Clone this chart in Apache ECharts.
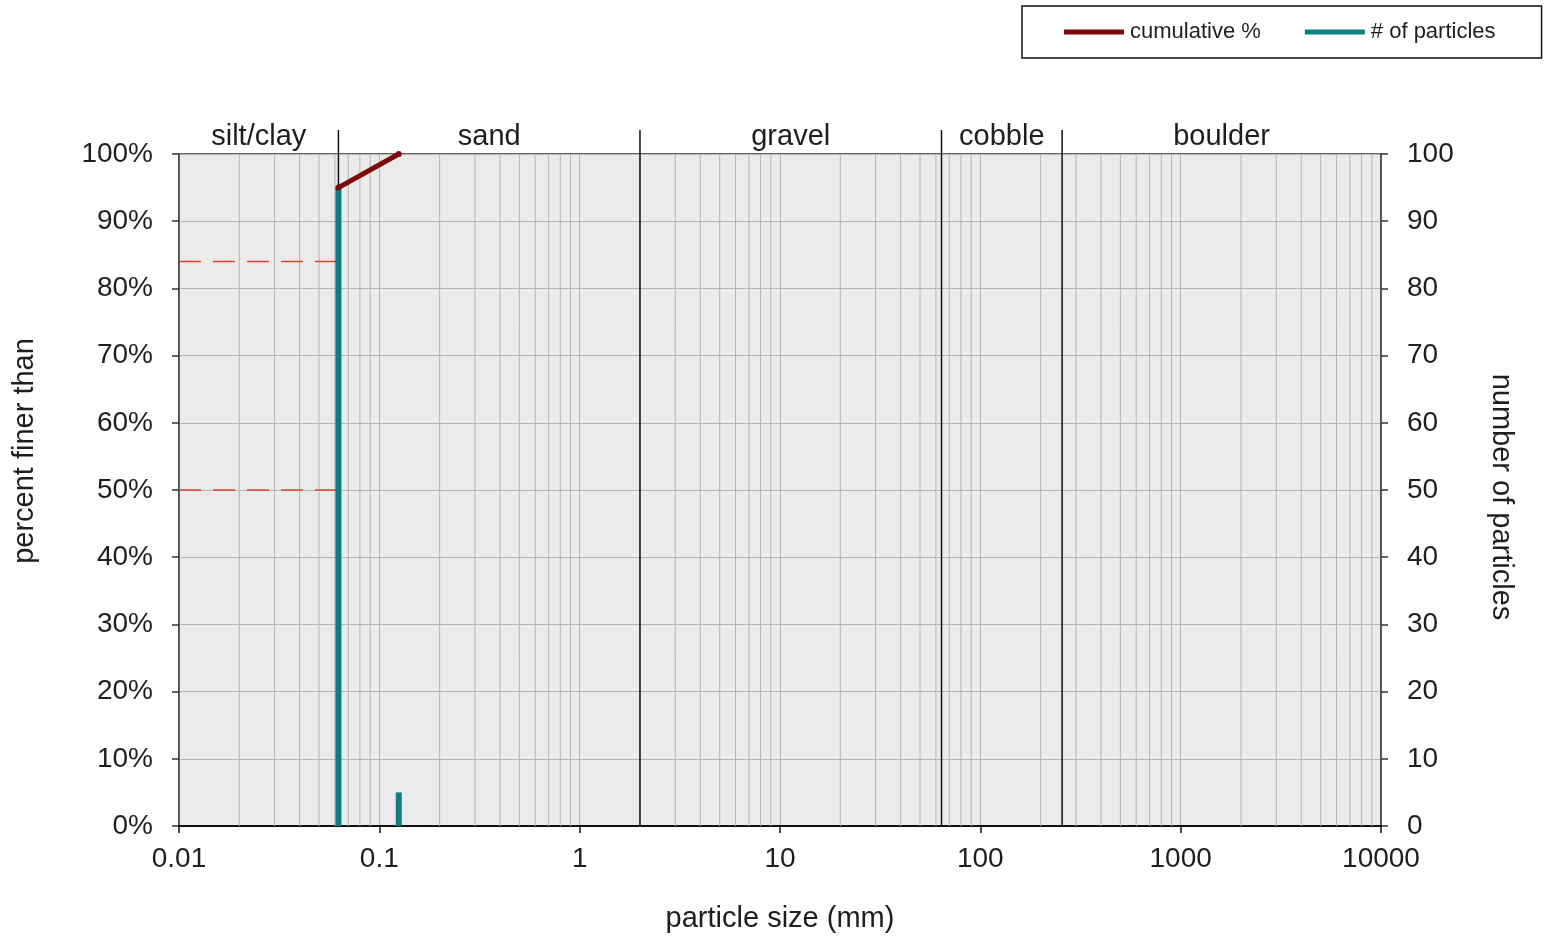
<!DOCTYPE html>
<html>
<head>
<meta charset="utf-8">
<script src="https://cdn.jsdelivr.net/npm/echarts@6/dist/echarts.min.js"></script>
<style>
html,body{margin:0;padding:0;background:#fff;}
#chart{width:1551px;height:940px;}
</style>
</head>
<body>
<div id="chart"></div>
<script>
// ---- data ----
const cumSizes = [0.0625, 0.125];          // mm
const cumPercent = [95, 100];              // % finer than
const particleSizes = [0.0625, 0.125];     // mm
const particleCounts = [95, 5];            // number of particles
const d84 = 84, d50 = 50;                  // dashed reference levels (%)
const dRefSize = 0.0625;                   // where dashed lines end
const boundaries = [0.0625, 2, 64, 256];   // class boundaries (mm)
const classNames = ['silt/clay', 'sand', 'gravel', 'cobble', 'boulder'];
const classLimits = [0.01, 0.0625, 2, 64, 256, 10000];
const xTickLabels = ['0.01', '0.1', '1', '10', '100', '1000', '10000'];
const leftTicks = [0,10,20,30,40,50,60,70,80,90,100];
const rightTicks = [0,10,20,30,40,50,60,70,80,90,100];

// minor log grid values
const minorGrid = [];
for (let e = -2; e < 4; e++) {
  for (let m = 2; m <= 9; m++) minorGrid.push(+(m * Math.pow(10, e)).toPrecision(6));
}

const FONT = 'Liberation Sans, Arial, sans-serif';
const TEAL = '#0e7f80';
const DARKRED = '#7d0a0a';
const GRIDC = '#b4b4b4';
const TXT = '#1e1e1e';

const chart = echarts.init(document.getElementById('chart'));

const particleSeries = particleSizes.map((s, i) => ({
  name: '# of particles',
  type: 'line',
  yAxisIndex: 1,
  data: [[s, 0], [s, particleCounts[i]]],
  symbol: 'none',
  lineStyle: { color: TEAL, width: 6, cap: 'butt' },
  itemStyle: { color: TEAL },
  z: 5
}));

const ICON = 'path://M0,0L60,0L60,5L0,5Z';

const option = {
  animation: false,
  textStyle: { fontFamily: FONT },
  grid: {
    left: 179, right: 170, top: 154, bottom: 114,
    show: true, backgroundColor: '#ebebeb', borderColor: '#333', borderWidth: 1.5
  },
  legend: {
    left: 1022, top: 6,
    padding: [15, 46, 15, 42],
    borderColor: '#111', borderWidth: 1.5,
    itemWidth: 60, itemHeight: 5, itemGap: 44,
    textStyle: { fontSize: 22, color: TXT, fontFamily: FONT, padding: [0, 0, 0, 1] },
    data: [
      { name: 'cumulative %', icon: ICON },
      { name: '# of particles', icon: ICON }
    ]
  },
  xAxis: {
    type: 'log', logBase: 10, min: 0.01, max: 10000, splitNumber: 6,
    name: 'particle size (mm)', nameLocation: 'middle', nameGap: 78,
    nameTextStyle: { fontSize: 29, color: TXT, fontFamily: FONT },
    axisLine: { show: true, onZero: false, lineStyle: { color: '#111', width: 2 } },
    axisTick: { show: true, length: 7, lineStyle: { color: '#111', width: 1.5 } },
    axisLabel: {
      fontSize: 28, color: TXT, margin: 19, fontFamily: FONT,
      formatter: function (v) {
        const e = Math.round(Math.log10(v));
        return xTickLabels[e + 2] !== undefined ? xTickLabels[e + 2] : '';
      }
    },
    splitLine: { show: true, lineStyle: { color: GRIDC, width: 1 } }
  },
  yAxis: [
    {
      type: 'value', min: 0, max: 100, interval: 10,
      name: 'percent finer than', nameLocation: 'middle', nameGap: 140, nameRotate: 90,
      nameTextStyle: { fontSize: 29, color: TXT, fontFamily: FONT, padding: [0, 0, 0, 78] },
      axisLine: { show: true, lineStyle: { color: '#444', width: 1.5 } },
      axisTick: { show: true, length: 7, lineStyle: { color: '#333', width: 1.5 } },
      axisLabel: {
        fontSize: 28, color: TXT, margin: 26, fontFamily: FONT,
        formatter: function (v) { return leftTicks.indexOf(v) >= 0 ? v + '%' : ''; }
      },
      splitLine: { show: true, lineStyle: { color: GRIDC, width: 1 } }
    },
    {
      type: 'value', min: 0, max: 100, interval: 10, position: 'right',
      name: 'number of particles', nameLocation: 'middle', nameGap: 105, nameRotate: -90,
      nameTextStyle: { fontSize: 29, color: TXT, fontFamily: FONT, padding: [0, 0, 0, 14] },
      axisLine: { show: true, lineStyle: { color: '#444', width: 1.5 } },
      axisTick: { show: true, length: 7, lineStyle: { color: '#333', width: 1.5 } },
      axisLabel: {
        fontSize: 28, color: TXT, margin: 26, fontFamily: FONT,
        formatter: function (v) { return rightTicks.indexOf(v) >= 0 ? String(v) : ''; }
      },
      splitLine: { show: false }
    }
  ],
  series: [
    {
      name: 'minorGrid', type: 'custom', silent: true, z: 1,
      data: minorGrid.map(v => [v, 0]),
      encode: { x: 0, y: 1 },
      renderItem: function (params, api) {
        const b = api.coord([api.value(0), 0]);
        const t = api.coord([api.value(0), 100]);
        return { type: 'line', shape: { x1: b[0], y1: b[1], x2: t[0], y2: t[1] },
                 style: { stroke: GRIDC, lineWidth: 1 } };
      }
    },
    {
      name: 'boundaries', type: 'custom', silent: true, clip: false, z: 3,
      data: boundaries.map(v => [v, 0]),
      encode: { x: 0, y: 1 },
      renderItem: function (params, api) {
        const b = api.coord([api.value(0), 0]);
        const t = api.coord([api.value(0), 100]);
        return { type: 'line', shape: { x1: b[0], y1: b[1], x2: t[0], y2: t[1] - 24 },
                 style: { stroke: '#111', lineWidth: 1.5 } };
      }
    },
    {
      name: 'classes', type: 'custom', silent: true, clip: false, z: 3,
      data: classNames.map((n, i) => [classLimits[i], classLimits[i + 1], i]),
      encode: { x: [0, 1], y: 2 },
      renderItem: function (params, api) {
        const lo = api.value(0), hi = api.value(1);
        const p = api.coord([Math.sqrt(lo * hi), 100]);
        return { type: 'text', x: p[0], y: p[1] - 17,
                 style: { text: classNames[api.value(2)], fill: TXT, fontSize: 29,
                          fontFamily: FONT, align: 'center', verticalAlign: 'middle' } };
      }
    },
    {
      name: 'd84', type: 'line', yAxisIndex: 0, z: 4,
      data: [[0.01, d84], [dRefSize, d84]], symbol: 'none',
      lineStyle: { color: '#e2402e', width: 1.5, type: [22, 12] }
    },
    {
      name: 'd50', type: 'line', yAxisIndex: 0, z: 4,
      data: [[0.01, d50], [dRefSize, d50]], symbol: 'none',
      lineStyle: { color: '#e2402e', width: 1.5, type: [22, 12] }
    },
    ...particleSeries,
    {
      name: 'cumulative %', type: 'line', yAxisIndex: 0, z: 6,
      data: cumSizes.map((s, i) => [s, cumPercent[i]]),
      symbol: 'circle', symbolSize: 6,
      lineStyle: { color: DARKRED, width: 5 },
      itemStyle: { color: DARKRED }
    }
  ]
};
chart.setOption(option);
</script>
</body>
</html>
